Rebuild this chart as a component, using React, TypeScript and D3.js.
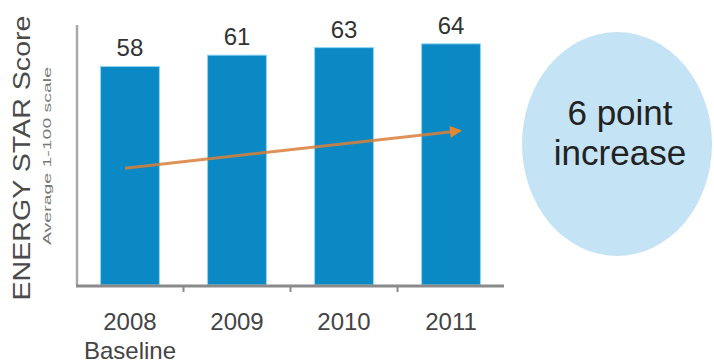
import React from "react";
import * as d3 from "d3";

const years = ["2008", "2009", "2010", "2011"];
const scores = [58, 61, 63, 64];
const subLabels = ["Baseline", "", "", ""];
// Trend arrow drawn over the bars, in score units
const trendFrom = 31;
const trendTo = 41;
const calloutLines = ["6 point", "increase"];

const W = 714;
const H = 364;
const left = 77;
const baseY = 285;
const topY = 25;

export default function App() {
  const x = d3
    .scaleBand<string>()
    .domain(years)
    .range([left, 504])
    .paddingInner(0.45)
    .paddingOuter(0.22);
  const y = d3.scaleLinear().domain([0, 69]).range([baseY, topY]);
  const bw = x.bandwidth();
  const cx = (d: string) => (x(d) as number) + bw / 2;

  const step = x.step();
  const dividers = years.slice(0, -1).map((d) => (x(d) as number) + bw + (step - bw) / 2);

  const ax1 = cx(years[0]) - 5;
  const ax2 = cx(years[years.length - 1]) + 11;
  const ay1 = y(trendFrom);
  const ay2 = y(trendTo);
  const ang = Math.atan2(ay2 - ay1, ax2 - ax1);

  const font = "Liberation Sans, Arial, sans-serif";

  return (
    <svg
      width={W}
      height={H}
      style={{ position: "absolute", left: 0, top: 0, display: "block", background: "#fff" }}
      fontFamily={font}
    >
      {/* y axis title */}
      <text
        transform={`translate(30,${158}) rotate(-90)`}
        textAnchor="middle"
        fontSize={23}
        fill="#4a4a4a"
        textLength={285}
        lengthAdjust="spacingAndGlyphs"
      >
        ENERGY STAR Score
      </text>
      <text
        transform={`translate(51,${156}) rotate(-90)`}
        textAnchor="middle"
        fontSize={11}
        fill="#777"
        textLength={178}
        lengthAdjust="spacingAndGlyphs"
      >
        Average 1-100 scale
      </text>

      {/* y axis line */}
      <line x1={left} x2={left} y1={topY} y2={baseY} stroke="#a8a8a8" strokeWidth={2.5} />

      {/* bars */}
      {years.map((d, i) => (
        <rect
          key={d}
          x={x(d)}
          y={y(scores[i])}
          width={bw}
          height={baseY - y(scores[i])}
          fill="#0a89c5"
          stroke="#8fd6f2"
          strokeWidth={1}
        />
      ))}

      {/* value labels */}
      {years.map((d, i) => (
        <text
          key={d}
          x={cx(d)}
          y={y(scores[i]) - 10}
          textAnchor="middle"
          fontSize={24}
          fill="#333"
        >
          {scores[i]}
        </text>
      ))}

      {/* baseline axis */}
      <line x1={left - 1} x2={504} y1={baseY + 1} y2={baseY + 1} stroke="#8a8a8a" strokeWidth={3} />
      {dividers.map((dx, i) => (
        <line key={i} x1={dx} x2={dx} y1={baseY} y2={baseY + 7} stroke="#8a8a8a" strokeWidth={2} />
      ))}

      {/* category labels */}
      {years.map((d, i) => (
        <g key={d}>
          <text x={cx(d)} y={330} textAnchor="middle" fontSize={24} fill="#444">
            {d}
          </text>
          {subLabels[i] && (
            <text x={cx(d)} y={359} textAnchor="middle" fontSize={24} fill="#444">
              {subLabels[i]}
            </text>
          )}
        </g>
      ))}

      {/* trend arrow */}
      <line x1={ax1} y1={ay1} x2={ax2 - 8 * Math.cos(ang)} y2={ay2 - 8 * Math.sin(ang)} stroke="#d9803a" strokeWidth={3} opacity={0.85} />
      <path
        d={`M${ax2},${ay2} L${ax2 - 12 * Math.cos(ang) + 6 * Math.sin(ang)},${ay2 - 12 * Math.sin(ang) - 6 * Math.cos(ang)} L${ax2 - 12 * Math.cos(ang) - 6 * Math.sin(ang)},${ay2 - 12 * Math.sin(ang) + 6 * Math.cos(ang)} Z`}
        fill="#e8862e"
      />

      {/* callout */}
      <ellipse cx={617} cy={144} rx={95} ry={112} fill="#c4e3f4" />
      {calloutLines.map((t, i) => (
        <text key={i} x={620} y={125 + i * 40} textAnchor="middle" fontSize={35} fill="#222">
          {t}
        </text>
      ))}
    </svg>
  );
}
